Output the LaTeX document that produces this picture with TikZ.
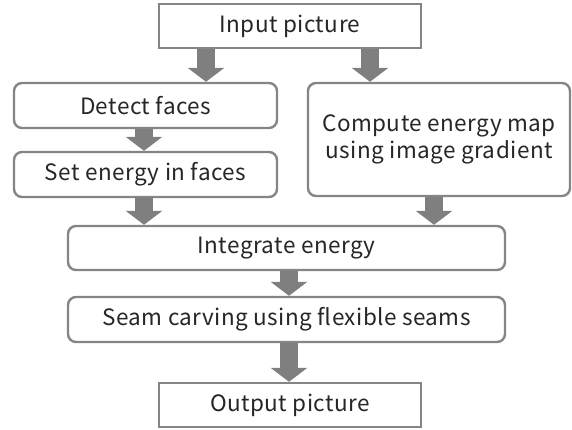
\documentclass[tikz,border=0pt]{standalone}
\usepackage{fontspec}
\setmainfont{Noto Sans CJK JP}[LetterSpace=2]
\usetikzlibrary{arrows.meta}
\definecolor{edgegray}{HTML}{858585}
\definecolor{arrowgray}{HTML}{7F7F7F}
\begin{document}
\begin{tikzpicture}[x=1pt,y=-1pt,
  box/.style={draw=edgegray, line width=2.4pt, fill=white, inner sep=0pt,
    font=\fontsize{22.5}{27}\selectfont, text=black!85, align=center},
  sqbox/.style={box},
  rbox/.style={box, rounded corners=8pt},
  flow/.style={draw=arrowgray, line width=18pt,
    -{Triangle[width=36pt,length=14pt,fill=arrowgray]}}]
\useasboundingbox (0,0) rectangle (572,429);

% process boxes
\node[sqbox, minimum width=262pt, minimum height=44pt] (in) at (290,26) {Input picture};
\node[rbox, minimum width=263pt, minimum height=45pt] (det) at (145.5,105.5) {Detect faces};
\node[rbox, minimum width=263pt, minimum height=45pt] (set) at (145.5,174.5) {Set energy in faces};
\node[rbox, minimum width=262pt, minimum height=113pt] (comp) at (439,139.5) {Compute energy map\\using image gradient};
\node[rbox, minimum width=437pt, minimum height=44pt] (integ) at (286.5,248) {Integrate energy};
\node[rbox, minimum width=437pt, minimum height=45pt] (seam) at (286.5,319.5) {Seam carving using flexible seams};
\node[sqbox, minimum width=262pt, minimum height=44pt] (out) at (290,405) {Output picture};

% horizontal positions of the block arrows
\coordinate (ax1) at (206,0);
\coordinate (ax2) at (370,0);
\coordinate (ax3) at (144,0);
\coordinate (ax4) at (434,0);
\coordinate (ax5) at (289,0);

\draw[flow] (in.south -| ax1) -- (det.north -| ax1);
\draw[flow] (in.south -| ax2) -- (comp.north -| ax2);
\draw[flow] (det.south -| ax3) -- (set.north -| ax3);
\draw[flow] (set.south -| ax3) -- (integ.north -| ax3);
\draw[flow] (comp.south -| ax4) -- (integ.north -| ax4);
\draw[flow] (integ.south -| ax5) -- (seam.north -| ax5);
\draw[flow] (seam.south -| ax5) -- (out.north -| ax5);
\end{tikzpicture}
\end{document}
